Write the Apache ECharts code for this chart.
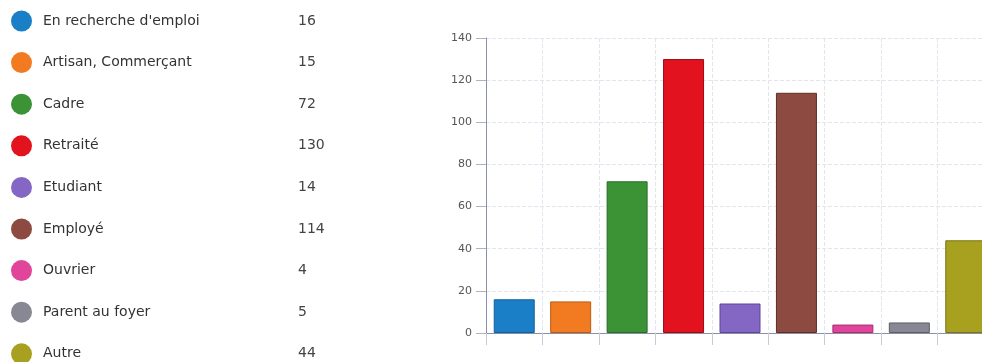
<!DOCTYPE html>
<html>
<head>
<meta charset="utf-8">
<script src="https://cdn.jsdelivr.net/npm/echarts@6/dist/echarts.min.js"></script>
<style>html,body{margin:0;padding:0;background:#fff}#c{width:982px;height:362px}</style>
</head>
<body>
<div id="c"></div>
<script>
const categories = ["En recherche d'emploi", "Artisan, Commerçant", "Cadre", "Retraité", "Etudiant", "Employé", "Ouvrier", "Parent au foyer", "Autre"];
const values = [16, 15, 72, 130, 14, 114, 4, 5, 44];
const colors = ["#1a7fc6", "#f27b22", "#3b9336", "#e2121f", "#8467c4", "#8d4a40", "#e0449b", "#878893", "#a8a01f"];
const borders = ["#10609a", "#b85c14", "#2a6d26", "#9c0a14", "#5e4696", "#5e2e27", "#a82e72", "#5c5d66", "#7a7414"];
const yTicks = [0, 20, 40, 60, 80, 100, 120, 140];

const chart = echarts.init(document.getElementById('c'), null, {renderer: 'canvas'});
const series = categories.map((name, i) => ({
  name: name,
  type: 'bar',
  stack: 'all',
  barWidth: 41,
  data: values.map((v, j) => j === i ? v : '-'),
  itemStyle: {color: colors[i], borderColor: borders[i], borderWidth: 1},
  emphasis: {disabled: true}
}));
chart.setOption({
  animation: false,
  color: colors,
  legend: {
    orient: 'vertical',
    left: 11,
    top: 10.5,
    height: 400,
    padding: 0,
    itemWidth: 21,
    itemHeight: 21,
    itemGap: 20.6,
    icon: 'circle',
    selectedMode: false,
    itemStyle: {borderWidth: 0},
    data: categories,
    formatter: name => `{n|${name}}{v|${values[categories.indexOf(name)]}}`,
    textStyle: {
      fontFamily: 'DejaVu Sans',
      fontSize: 14,
      color: '#333',
      rich: {
        n: {fontFamily: 'DejaVu Sans', fontSize: 14, color: '#333', width: 255, padding: [0, 0, 0, 6]},
        v: {fontFamily: 'DejaVu Sans', fontSize: 14, color: '#444'}
      }
    }
  },
  grid: {left: 486, top: 38, bottom: 29, width: 508, containLabel: false, outerBoundsMode: 'none'},
  xAxis: {
    type: 'category',
    data: categories,
    axisLabel: {show: false},
    axisLine: {lineStyle: {color: '#8c8fa8', width: 1}},
    axisTick: {show: true, length: 12, interval: 0, lineStyle: {color: '#c8cbd8'}},
    splitLine: {show: true, interval: 0, lineStyle: {color: '#e2e4ee', type: [4, 2]}}
  },
  yAxis: {
    type: 'value',
    min: yTicks[0],
    max: yTicks[yTicks.length - 1],
    interval: 20,
    axisLine: {show: true, lineStyle: {color: '#8c8fa8', width: 1}},
    axisTick: {show: true, length: 10, lineStyle: {color: '#b0b3c4'}},
    axisLabel: {fontFamily: 'DejaVu Sans', fontSize: 11, color: '#555', margin: 14},
    splitLine: {show: true, lineStyle: {color: '#e2e4ee', type: [4, 2]}}
  },
  series: series
});
</script>
</body>
</html>
